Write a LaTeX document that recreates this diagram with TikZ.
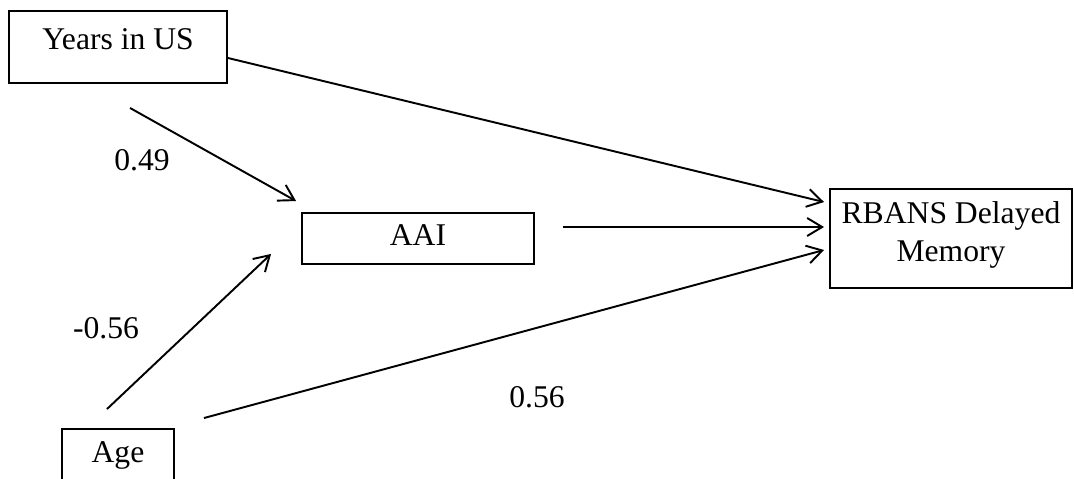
\documentclass[tikz,border=0pt]{standalone}
\usepackage{fontspec}
\setmainfont{Liberation Serif}
\usepackage{tikz}
\usetikzlibrary{arrows.meta}

\begin{document}
\begin{tikzpicture}[
    x=0.02cm, y=-0.02cm,
    box/.style={rectangle, draw=black, line width=1.1pt, inner sep=0pt, text height=12pt, align=center, font=\fontsize{18}{21.6}\selectfont},
    coef/.style={inner sep=0pt, font=\fontsize{18}{21.6}\selectfont},
    effect/.style={line width=1.1pt, -{Straight Barb[length=3mm, width=3.6mm, line width=1.1pt]}}
]
\useasboundingbox (0,0) rectangle (1074,479);
\clip (0,0) rectangle (1074,479);

\node[box, minimum width=4.36cm, minimum height=1.44cm, text depth=9.7pt] (years) at (118,47) {Years in US};
\node[box, minimum width=4.64cm, minimum height=1.02cm, text depth=3.9pt] (aai) at (418,238.5) {AAI};
\node[box, minimum width=4.84cm, minimum height=1.98cm, text height=33.6pt, text depth=7pt] (rbans) at (951,238.5) {RBANS Delayed\\Memory};
\node[box, minimum width=2.24cm, minimum height=1.44cm, text depth=15.4pt] (age) at (118,465) {Age};

\draw[effect] ([shift={(0,11)}]years.east) -- ([shift={(-5,14)}]rbans.north west);
\draw[effect] ([shift={(12,24)}]years.south) -- ([shift={(-5,-11)}]aai.north west);
\draw[effect] ([shift={(28,-11.5)}]aai.east) -- ([shift={(-5,-11.5)}]rbans.west);
\draw[effect] ([shift={(-11,-19)}]age.north) -- ([shift={(-30,-11)}]aai.south west);
\draw[effect] ([shift={(29,-10)}]age.north east) -- ([shift={(-5,11.5)}]rbans.west);

\node[coef] (pyears) at (142,160) {0.49};
\node[coef] (pagea) at (106,328) {-0.56};
\node[coef] (pager) at (537,397) {0.56};

\end{tikzpicture}
\end{document}
